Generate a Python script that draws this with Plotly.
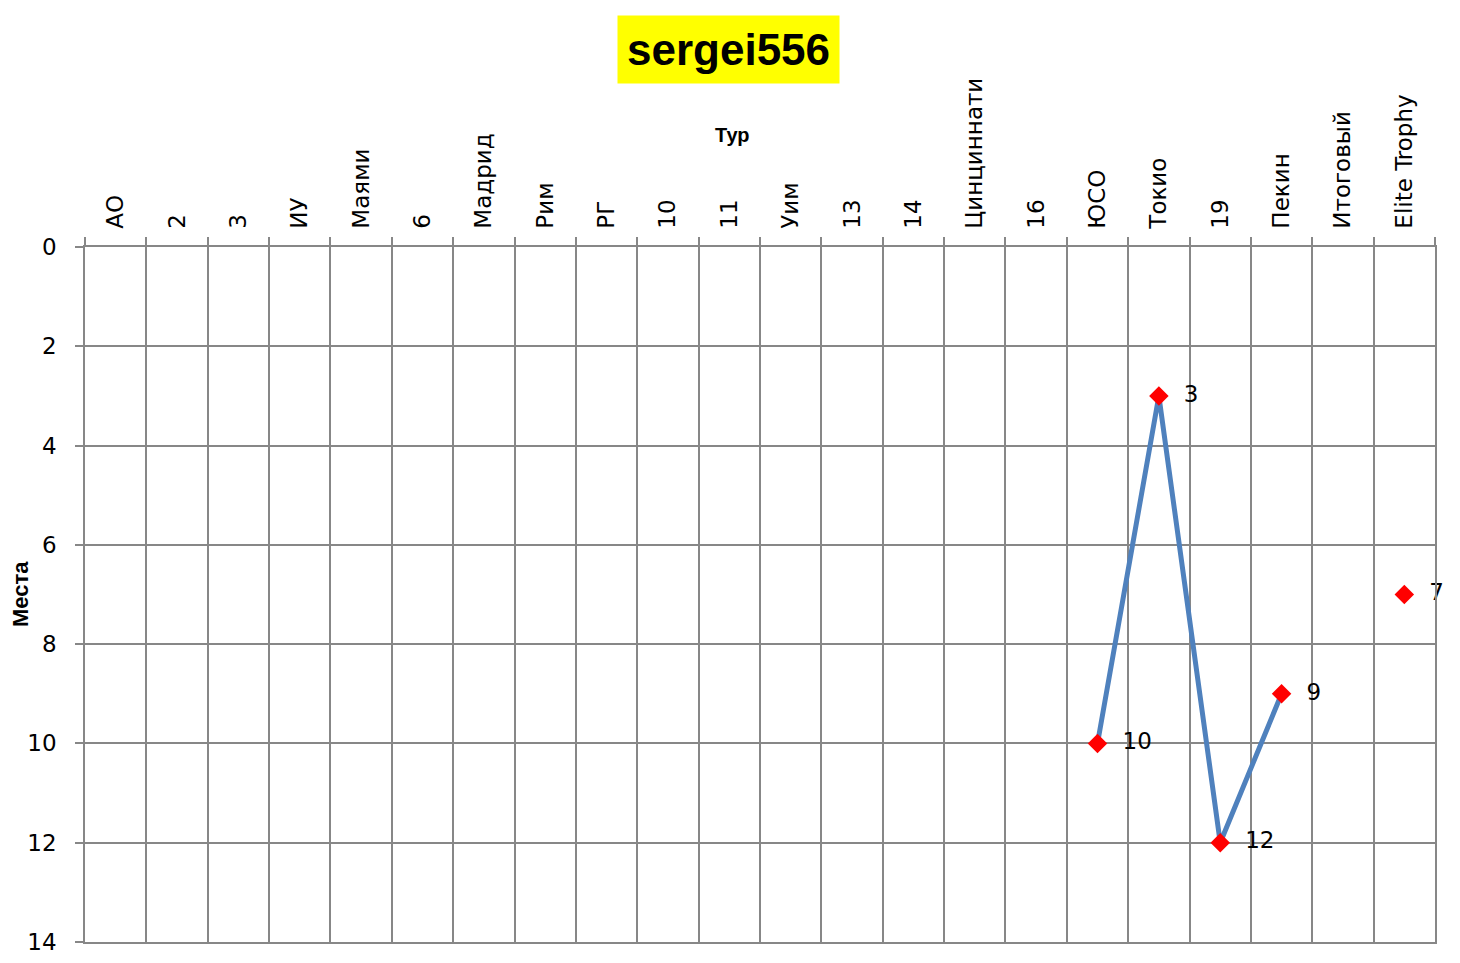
import plotly.graph_objects as go

categories = ["АО", "2", "3", "ИУ", "Маями", "6", "Мадрид", "Рим", "РГ", "10", "11",
              "Уим", "13", "14", "Цинциннати", "16", "ЮСО", "Токио", "19", "Пекин",
              "Итоговый", "Elite Trophy"]
places = [None, None, None, None, None, None, None, None, None, None, None,
          None, None, None, None, None, 10, 3, 12, 9, None, 7]
labels = ["" if v is None else "  " + str(v) for v in places]

title_text = "sergei556"
x_title = "Тур"
y_title = "Места"

grid_color = "#878787"
font_family = "DejaVu Sans, Verdana, sans-serif"

# page offset (body margin) is 8px
W, H = 1452, 955
L, T, R, B = 77, 239, 25, 21
pw, ph = W - L - R, H - T - B

def px_x(xp):
    return (xp - 8 - L) / pw

def px_y(yp):
    return 1 - (yp - 8 - T) / ph

fig = go.Figure()
fig.add_trace(go.Scatter(
    x=categories, y=places, mode="lines+markers+text",
    text=labels, textposition="middle right",
    textfont=dict(size=23, color="#000000", family=font_family),
    line=dict(color="#4F81BD", width=5),
    marker=dict(symbol="diamond", size=15, color="#FF0000"),
    connectgaps=False, cliponaxis=False, showlegend=False,
))

fig.update_layout(
    width=W, height=H,
    margin=dict(l=L, r=R, t=T, b=B, autoexpand=False),
    paper_bgcolor="#ffffff", plot_bgcolor="#ffffff",
    font=dict(family=font_family, color="#000000"),
    annotations=[
        dict(text="<b>" + title_text + "</b>", x=px_x(728), y=px_y(50),
             xref="paper", yref="paper", xanchor="center", yanchor="middle",
             showarrow=False, font=dict(size=44, color="#000000", family="Liberation Sans, Arial"),
             bgcolor="#FFFF00", borderpad=9),
        dict(text="<b>" + x_title + "</b>", x=px_x(732), y=px_y(135),
             xref="paper", yref="paper", xanchor="center", yanchor="middle",
             showarrow=False, font=dict(size=20, color="#000000", family="Liberation Sans, Arial")),
        dict(text="<b>" + y_title + "</b>", x=px_x(20), y=px_y(594), textangle=-90,
             xref="paper", yref="paper", xanchor="center", yanchor="middle",
             showarrow=False, font=dict(size=22, color="#000000", family="Liberation Sans, Arial")),
    ],
)

fig.update_xaxes(
    type="category", side="top", tickson="boundaries",
    tickangle=-90, tickfont=dict(size=23, color="#000000"),
    ticks="outside", ticklen=8, tickcolor=grid_color, tickwidth=1.5,
    ticklabelstandoff=12,
    showgrid=True, gridcolor=grid_color, gridwidth=1.5,
    showline=True, linecolor=grid_color, linewidth=1.5, mirror=True,
    range=[-0.5, len(categories) - 0.5],
    fixedrange=True, automargin=False,
)
fig.update_yaxes(
    range=[14, 0], dtick=2, tick0=0,
    tickfont=dict(size=23, color="#000000"),
    ticks="outside", ticklen=8, tickcolor=grid_color, tickwidth=1.5,
    ticklabelstandoff=14,
    showgrid=True, gridcolor=grid_color, gridwidth=1.5,
    showline=True, linecolor=grid_color, linewidth=1.5, mirror=True,
    zeroline=False,
    fixedrange=True, automargin=False,
)

fig.write_html("out.html")
